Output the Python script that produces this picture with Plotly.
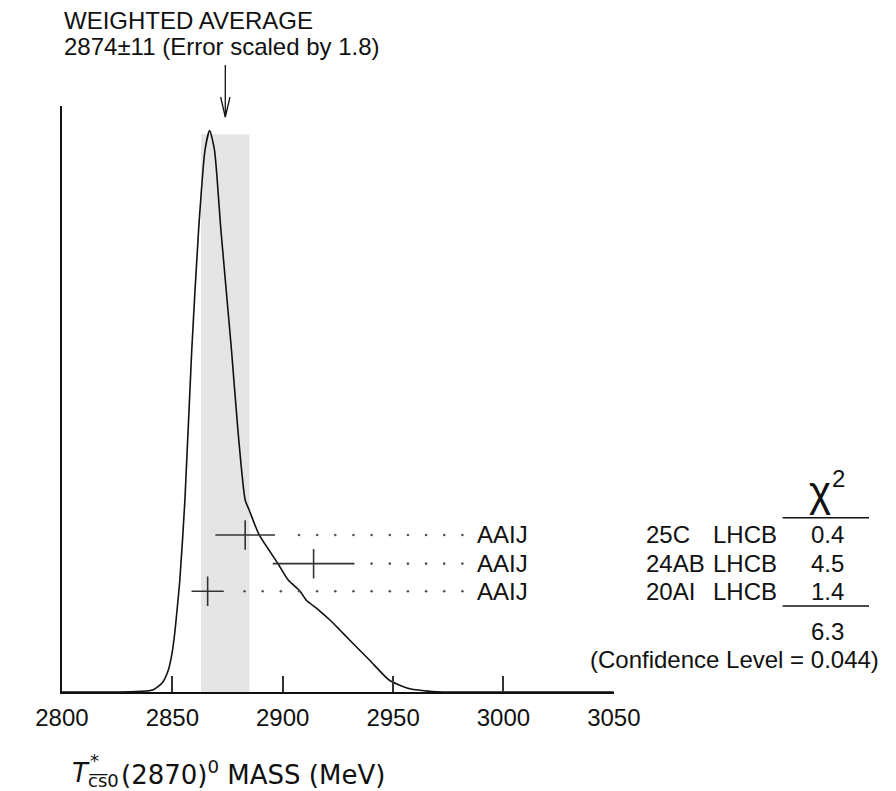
import numpy as np
import plotly.graph_objects as go

# ---------------- data ----------------
avg_value = 2874
avg_error = 11
scale_factor = 1.8
conf_level = 0.044
chi2_total = 6.3

refs = ["25C", "24AB", "20AI"]
experiments = ["LHCB", "LHCB", "LHCB"]
authors = ["AAIJ", "AAIJ", "AAIJ"]
means = [2883, 2914, 2866]
errors = [13.5, 18.5, 7.3]
chi2 = [0.4, 4.5, 1.4]

# ideogram curve (mass in MeV, relative height)
curve_mass = [2800, 2820, 2831, 2835.4, 2841.1, 2845.4, 2848.2, 2849.9, 2851.1, 2851.7,
              2853.4, 2855.7, 2858.8, 2861.9, 2864.8, 2866.9, 2869.1, 2872.0, 2876.8,
              2879.7, 2883.0, 2884.8, 2889.3, 2897.9, 2902.5, 2907.8, 2910.6, 2916.3,
              2921.4, 2925.9, 2930.3, 2939.3, 2948.2, 2956.3, 2964.0, 2972.4, 2990, 3050]
curve_height = [0, 0, 0.0003, 0.001, 0.0034, 0.0154, 0.0375, 0.0666, 0.1007, 0.1229,
                0.1911, 0.3276, 0.5836, 0.7884, 0.9249, 0.9579, 0.9249, 0.7884, 0.5836,
                0.447, 0.3276, 0.3106, 0.2684, 0.2189, 0.1911, 0.1724, 0.1570, 0.1399,
                0.1229, 0.1058, 0.0887, 0.0546, 0.0205, 0.0068, 0.002, 0.0, 0, 0]

tick_vals = [2800, 2850, 2900, 2950, 3000, 3050]
tick_text = [str(v) for v in tick_vals]

# ---------------- layout helpers (screen px -> figure paper) ----------------
OFF = 8                      # page body margin
W, H = 888, 783
PX_L, PX_R, PX_BASE, PX_TOP = 36.7, 624.3, 692.0, 106.0
X_MIN, X_MAX = 2800, 3050
mev_per_px = (X_MAX - X_MIN) / (PX_R - PX_L)


def pxx(p):
    return (p - OFF) / W


def pxy(p):
    return 1 - (p - OFF) / H


row_y = [0.268, 0.219, 0.172]
band_top = 0.952
HELV = "Liberation Sans, Arial, Helvetica, sans-serif"
DEJA = "DejaVu Sans, sans-serif"
INK = "#111111"

fig = go.Figure()

# average band
fig.add_shape(type="rect", xref="x", yref="y",
              x0=avg_value - avg_error, x1=avg_value + avg_error, y0=0, y1=band_top,
              fillcolor="#e5e5e5", line=dict(width=0), layer="below")

# ideogram curve
fig.add_trace(go.Scatter(x=curve_mass, y=curve_height, mode="lines",
                         line=dict(color=INK, width=1.6, shape="spline", smoothing=0.6),
                         hoverinfo="skip", showlegend=False))

# leader dots
dot_grid = 2882.7 + 8.225 * np.arange(13)
for m, e, yy in zip(means, errors, row_y):
    dx = dot_grid[dot_grid > m + e + 5]
    fig.add_trace(go.Scatter(x=dx, y=[yy] * len(dx), mode="markers",
                             marker=dict(size=2.6, color="#555555"),
                             hoverinfo="skip", showlegend=False))

# measurements
fig.add_trace(go.Scatter(
    x=means, y=row_y, mode="markers",
    marker=dict(symbol="line-ns", size=21, line=dict(width=1.6, color="#333333")),
    error_x=dict(type="data", array=errors, visible=True, width=0,
                 thickness=1.6, color="#333333"),
    hoverinfo="skip", showlegend=False))

# arrow over the average
arm = 5 * mev_per_px
fig.add_shape(type="line", xref="x", yref="paper",
              x0=avg_value, x1=avg_value, y0=pxy(65), y1=pxy(117),
              line=dict(color=INK, width=1.3))
fig.add_shape(type="path", xref="x", yref="paper",
              path=f"M {avg_value - arm},{pxy(97)} L {avg_value},{pxy(117)} L {avg_value + arm},{pxy(97)}",
              line=dict(color=INK, width=1.3))

ann = []


def text(t, x, y, size=24, anchor="left", font=HELV, yref="paper"):
    ann.append(dict(text=t, x=x, y=y, xref="paper", yref=yref, xanchor=anchor,
                    yanchor="middle", showarrow=False,
                    font=dict(size=size, family=font, color=INK)))


text("WEIGHTED AVERAGE", pxx(37), pxy(21))
text(f"{avg_value}±{avg_error} (Error scaled by {scale_factor})", pxx(37), pxy(47))

for a, r, ex, c, yy in zip(authors, refs, experiments, chi2, row_y):
    text(a, pxx(476.7), yy, yref="y")
    text(r, pxx(656), yy, yref="y")
    text(ex, pxx(727.7), yy, yref="y")
    text(f"{c:.1f}", pxx(852), yy, anchor="center", yref="y")

text("χ", pxx(843.5), pxy(491), size=42, anchor="center")
text("2", pxx(863), pxy(478), size=24, anchor="center")
text(f"{chi2_total:.1f}", pxx(852), pxy(631), anchor="center")
text(f"(Confidence Level = {conf_level})", pxx(596.7), pxy(659))

# x-axis title pieces
text("<i>T</i>", pxx(45.5), pxy(773), size=26, font=DEJA)
text("*", pxx(64), pxy(760), size=18, font=DEJA)
text("c\u0305s\u03050", pxx(62), pxy(780), size=18, font=DEJA)
text("(2870)<sup>0</sup> MASS (MeV)", pxx(97), pxy(773), size=26, font=DEJA)

for yv in (517.7, 606):
    fig.add_shape(type="line", xref="paper", yref="paper",
                  x0=pxx(804), x1=pxx(896), y0=pxy(yv), y1=pxy(yv),
                  line=dict(color=INK, width=1.4))

fig.update_layout(
    width=W, height=H, margin=dict(l=0, r=0, t=0, b=0),
    paper_bgcolor="white", plot_bgcolor="white",
    showlegend=False, annotations=ann,
    xaxis=dict(domain=[pxx(PX_L), pxx(PX_R)], range=[X_MIN, X_MAX],
               showgrid=False, zeroline=False, showline=True, linecolor=INK, linewidth=1.5,
               ticks="inside", ticklen=16, tickwidth=1.5, tickcolor="#333333",
               tickvals=tick_vals, ticktext=tick_text, ticklabelstandoff=3,
               tickfont=dict(size=24, family=HELV, color=INK), fixedrange=True),
    yaxis=dict(domain=[pxy(PX_BASE), pxy(PX_TOP)], range=[0, 1],
               showgrid=False, zeroline=False, showline=True, linecolor=INK, linewidth=1.5,
               ticks="", showticklabels=False, fixedrange=True),
)

fig.write_html("out.html")
